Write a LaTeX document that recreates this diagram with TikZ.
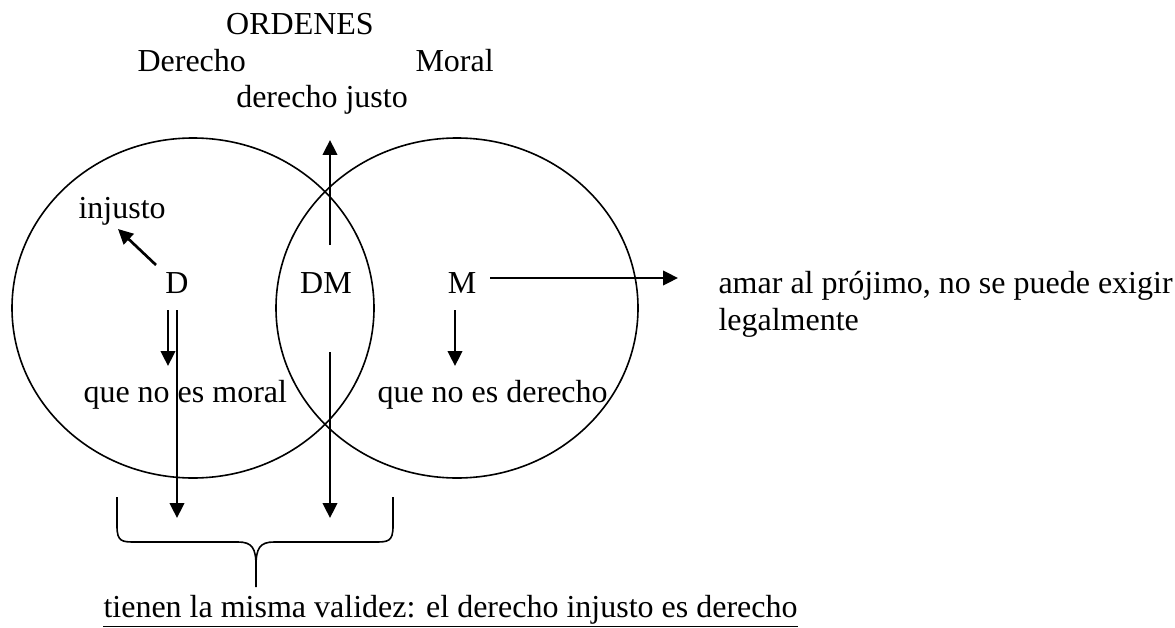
\documentclass[tikz,border=0pt]{standalone}
\usepackage{fontspec}
\setmainfont{Liberation Serif}
\usetikzlibrary{arrows.meta,shapes.geometric}
\begin{document}
\begin{tikzpicture}[x=0.375pt,y=-0.375pt,
  lbl/.style={inner sep=0pt,font=\fontsize{12pt}{14pt}\selectfont},
  setshape/.style={draw,ellipse,line width=0.6pt,inner sep=0pt,minimum width=135.75pt,minimum height=127.5pt},
  arr/.style={line width=1pt,-{Triangle[length=5.6pt,width=5.4pt]}},
  bracestyle/.style={line width=0.6pt}]
\useasboundingbox (0,0) rectangle (1175,628);
% sets
\node[setshape] (Dset) at (193,308) {};
\node[setshape] (Mset) at (457,308) {};
% texts
\node[lbl,anchor=base] (ordenes) at (300,34) {ORDENES};
\node[lbl,anchor=base west] (derecho) at (137,72) {Derecho};
\node[lbl,anchor=base west] (moral) at (415,72) {Moral};
\node[lbl,anchor=base] (justo) at (322,107) {derecho justo};
\node[lbl,anchor=base west] (injusto) at (78,218) {injusto};
\node[lbl,anchor=base] (D) at (177,293) {D};
\node[lbl,anchor=base] (DM) at (326,293) {DM};
\node[lbl,anchor=base] (M) at (462,293) {M};
\node[lbl,anchor=base west] (qnm) at (83,402) {que no es moral};
\node[lbl,anchor=base west] (qnd) at (377,402) {que no es derecho};
\node[lbl,anchor=base west] (amar) at (718,293) {amar al prójimo, no se puede exigir};
\node[lbl,anchor=base west] (legal) at (718,330) {legalmente};
\node[lbl,anchor=base west] (tienen) at (103,617) {tienen la misma validez: el derecho injusto es derecho};
\draw[line width=0.45pt] ([yshift=-3.6pt]tienen.base west) -- ([yshift=-3.6pt]tienen.base east);
% arrow end points
\coordinate (dmupA) at (330,245);
\coordinate (dmupB) at (330,140);
\coordinate (injA) at (156,265);
\coordinate (injB) at (118,229);
\coordinate (dsA) at (168,310);
\coordinate (dsB) at (168,366);
\coordinate (dlA) at (177,310);
\coordinate (dlB) at (177,518);
\coordinate (dmdA) at (330,352);
\coordinate (dmdB) at (330,518);
\coordinate (mrA) at (490,278);
\coordinate (mrB) at (678,278);
\coordinate (mdA) at (455,310);
\coordinate (mdB) at (455,366);
\draw[arr] (dmupA) -- (dmupB);
\draw[arr] (injA) -- (injB);
\draw[arr] (dsA) -- (dsB);
\draw[arr] (dlA) -- (dlB);
\draw[arr] (dmdA) -- (dmdB);
\draw[arr] (mrA) -- (mrB);
\draw[arr] (mdA) -- (mdB);
% brace
\coordinate (brL) at (117,497);
\coordinate (brR) at (393,497);
\coordinate (brT) at (256,587);
\draw[bracestyle] (brL) -- (117,526) .. controls (117,542) and (122,542) .. (136,542)
  -- (238,542) .. controls (252,542) and (256,548) .. (256,566) -- (brT);
\draw[bracestyle] (brR) -- (393,526) .. controls (393,542) and (388,542) .. (374,542)
  -- (274,542) .. controls (260,542) and (256,548) .. (256,566);
\end{tikzpicture}
\end{document}
